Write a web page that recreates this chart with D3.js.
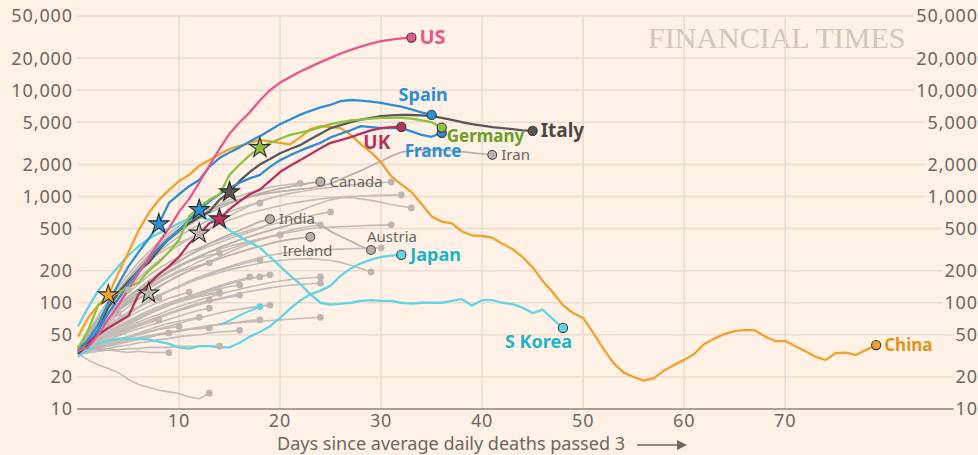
<!DOCTYPE html>
<html><head><meta charset="utf-8">
<script src="https://cdn.jsdelivr.net/npm/d3@7"></script>
<style>
html,body{margin:0;padding:0;background:#fff1e5;}
svg{display:block;}
text{font-family:"Noto Sans",sans-serif;}
</style></head><body>
<svg id="chart" width="978" height="455"></svg>
<script>
// ---------- DATA ----------
const yTicks = [10,20,50,100,200,500,1000,2000,5000,10000,20000,50000];
const xTicks = [10,20,30,40,50,60,70];
const xTitle = "Days since average daily deaths passed 3";
const watermark = "FINANCIAL TIMES";

// highlighted countries: values by day from day 0
const us      = [35,38,50,70,95,135,190,265,370,500,720,950,1350,1950,2800,3900,5000,6200,8000,10000,11800,13300,15000,16600,18400,20200,22200,24000,25800,27500,29000,30000,30800,31300];
const spain   = [35,45,62,100,150,220,300,400,550,870,1050,1250,1430,1900,2300,2600,2900,3300,3700,4200,4800,5300,5900,6400,6900,7300,7900,8100,8000,7800,7600,7300,7000,6600,6200,5860];
const italy   = [33,40,55,90,125,160,200,237,314,400,480,560,640,720,930,1100,1400,1700,2000,2250,2550,2800,3050,3450,3900,4400,4700,5000,5300,5500,5700,5800,5850,5850,5800,5700,5500,5250,5000,4800,4650,4500,4400,4300,4200,4150];
const germany = [37,55,95,110,125,140,155,200,240,300,390,650,800,930,1050,1600,2000,2450,2870,3200,3500,3800,4000,4200,4500,4800,5000,5200,5300,5400,5500,5500,5500,5400,5200,5000,4450];
const france  = [38,42,55,80,110,150,200,260,330,400,480,600,748,900,1050,1200,1350,1480,1600,1900,2200,2450,2700,2950,3200,3600,3900,4200,4600,4500,4400,4400,4400,4100,3800,3650,3980];
const uk      = [38,42,50,58,66,75,120,150,185,220,270,360,440,560,613,760,900,1050,1160,1400,1700,1950,2200,2500,2850,3200,3400,3620,3900,4200,4400,4500,4520];
const china   = [48,72,95,118,190,300,480,700,930,1150,1400,1600,1950,2200,2500,2800,3000,3200,3400,3300,3200,3100,3600,4300,4600,4500,4400,3800,3100,2600,2100,1550,1300,1100,850,650,580,560,470,430,425,410,360,320,270,215,160,125,95,80,72,52,37,27,22,20,18.5,19.5,23,26,29,33,41,46,51,54,55.5,55,48,43.6,43.6,39,35,31,29,33.6,34,32.2,36,40];
const sKorea  = [60,90,130,170,220,280,340,400,450,500,560,620,640,610,560,480,420,370,330,270,220,180,150,120,100,96,98,100,104,106,104,104,100,98,100,100,100,104,108,94,106,106,100,97,90,80,86,70,58];
const japan   = [31,36,41,44,46,46,46,45,43,41,38,37,39,39,38,38,42,48,53,60,72,88,105,120,130,145,180,210,235,255,270,278,282];
const cyanExtra = [62,68,76,84,92]; // starts day 14
// labelled grey countries
const iran    = [36,50,70,95,130,170,220,280,350,420,500,580,660,740,820,880,940,990,1040,1080,1110,1140,1170,1200,1250,1320,1450,1600,1750,1950,2150,2400,2620,2700,2740,2760,2750,2700,2650,2580,2520,2460];
const canada  = [34,48,65,90,120,160,210,260,320,390,460,540,620,700,780,860,930,1000,1070,1130,1190,1240,1290,1340,1380];
const india   = [35,48,62,78,96,115,135,160,185,215,245,280,320,360,400,440,480,530,580,613];
const ireland = [33,45,58,72,85,98,110,123,140,160,180,200,220,240,260,280,300,320,340,360,380,395,405,417];
const austria = [34,44,56,70,86,104,124,146,170,195,220,245,270,300,330,360,390,420,450,480,510,540,570,590,540,470,420,380,340,314];
// unlabelled grey countries
const greys = [
 [33,42,52,64,78,92,108,125,143,160,180,200,220,245,270,300,330,360,390,415,435],
 [36,46,58,72,88,105,123,142,160,180,200,220,245,270,295,320,345,370,395,420,450,480,505,525,541],
 [35,48,62,78,95,112,130,150,170,195,220,245,265,280,294],
 [34,44,56,70,85,100,118,135,155,175,195,210,225,237],
 [33,40,48,57,67,78,90,102,115,128,140,155,170,185,200,215,228,242,253],
 [34,39,45,52,58,65,72,80,88,96,105,114,124,134,145,155,165,175],
 [33,38,43,49,55,62,70,78,86,94,102,110,120,130,140,150,160,168,175],
 [35,41,47,54,61,68,76,84,92,100,108,116,124,133,142,152,162,170,177,183],
 [33,37,42,48,54,60,66,72,78,85,92,99,106,113,120,127,134,141,148,154,160,165,169,172,175],
 [34,38,43,48,53,58,63,68,74,80,86,92,98,104,110,116,122,128,133,138,142,146,149,151,153],
 [33,38,44,50,57,64,72,80,88,96,104,112,120,128,135,142,147],
 [34,38,42,47,52,57,62,67,72,78,84,90,96,102,108,113,118],
 [35,40,46,52,58,65,72,80,88,96,104,111,117,122,126],
 [33,37,42,47,52,57,62,68,74,80,86,93,100,106],
 [34,37,41,45,49,53,57,61,65,70,75,80,85,89],
 [35,42,49,57,65,74,83,92,101,110,118,126],
 [36,44,53,62,72,82,92,102,111],
 [38,55,72,90,110,132],
 [35,45,56,68,80],
 [33,37,41,45,50,55,60,65,69],
 [34,36,38,41,44,47,50,53,56,58,60],
 [33,36,39,42,45,48,52,56,60,64,67,70,73],
 [34,36,38,40,42,44,46,48,50,52,54,56,57,58],
 [33,35,37,39,41,43,45,47,50,52],
 [33,34,36,37,39,40,42,43,45,46,48,49,50,52,53,54,55],
 [34,36,38,40,42,44,46,48,50,52,54,56,58,60,62,64,66,68,69],
 [33,36,39,42,45,48,51,54,57,60,64,68,72,76,80,84,87,90,93,95],
 [35,37,39,41,43,45,47,49,51,53,55,57,59,61,63,64,65,66,67,68,69,70,71,72,73],
 [33,34,35,36,36,37,37,38,38,38,39,39,39,39,39],
 [33,34,35,36,35,34,35,34,34,34],
 [34,36,38],
 [33,29,26,24,22,19,17,16,15,14.5,14,13,12.5,14.1],
 [34,40,46,53,60,67,74,81,88,95,102,108,114,119,123],
 [34,46,60,78,100,125,150,180,210,240,270,300,330,360,390,420,450,480,510,540,570,600,630,660,690,716],
 [35,50,70,95,125,160,200,245,290,330,370,400,434,500,580,660,740,820,900,960,1020,1070,1110,1150,1190,1220,1250,1280,1310,1330,1350,1371],
 [33,45,60,80,105,135,170,210,250,300,350,400,450,500,550,600,650,700,740,780,820,860,890,920,950,970,990,1000,1010,1020,1025,1030,1035],
 [34,44,56,70,88,110,135,160,190,220,250,280,310,340,370,400,430,460,500,560,620,680,740,800,870,930,970,980,950,920,880,840,810,781],
 [33,42,54,68,85,105,125,150,175,200,225,250,275,300,320,340,360,380,400,420,440,460,480,500,510,515,520,525,530,535,538,541],
 [33,40,48,57,68,80,92,105,118,130,145,160,175,190,205,220,235,250,265,280,290,300,305,310,315,318,320,322,325,327,328],
 [34,42,50,60,70,80,92,105,118,130,142,155,168,180,192,205,215,225,235,245,250,255,258,260,255,250,240,225,210,195],
 [35,50,70,95,125,160,200,250,300,360,420,480,540,600,660,720,780,830,870],
 [36,52,75,105,140,185,240,300,370,450,530,610,690,770,850,930,1010,1090,1160,1220,1270,1300,1330]
];
// lockdown stars: [series, day]
const stars = [["China",3],["Ireland",7],["Spain",8],["France",12],["Grey35",12],["UK",14],["Italy",15],["Germany",18]];

// ---------- STYLE ----------
const C = {bg:"#fff1e5", grid:"#e9dccf", axis:"#8b837d", tick:"#6d6661", grey:"#c4bcb6", greyDot:"#bdb5af",
  pink:"#e9578a", blue:"#2b8fd6", dark:"#5b5755", green:"#8cc23d", crimson:"#b5325f", orange:"#f0a12c", cyan:"#5fd5e5"};

const hi = [
 {name:"US", v:us, color:C.pink, lab:C.pink, dx:8, dy:-1, size:20},
 {name:"Spain", v:spain, color:C.blue, lab:C.blue, dx:-33, dy:-20, size:18},
 {name:"Italy", v:italy, color:C.dark, lab:"#4a4745", dx:8, dy:-1, size:19},
 {name:"UK", v:uk, color:C.crimson, lab:C.crimson, dx:-38, dy:15, size:19},
 {name:"France", v:france, color:C.blue, lab:C.blue, dx:-37, dy:18, size:17},
 {name:"Germany", v:germany, color:C.green, lab:"#6e9e27", dx:5, dy:8, size:17},
 {name:"Japan", v:japan, color:C.cyan, lab:"#1db4c6", dx:9, dy:0, size:18},
 {name:"S Korea", v:sKorea, color:C.cyan, lab:"#1db4c6", dx:-58, dy:14, size:18},
 {name:"China", v:china, color:C.orange, lab:"#e39418", dx:8, dy:0, size:17}
];
const labelledGrey = [
 {name:"Iran", v:iran, dx:9, dy:0},
 {name:"Canada", v:canada, dx:9, dy:0},
 {name:"India", v:india, dx:9, dy:0},
 {name:"Ireland", v:ireland, dx:-28, dy:14},
 {name:"Austria", v:austria, dx:-4, dy:-13}
];

const svg = d3.select("#chart");
svg.append("rect").attr("width",978).attr("height",455).attr("fill",C.bg);

const x = d3.scaleLinear().domain([0,87]).range([78,957]);
const y = d3.scaleLog().domain([10,50000]).range([409,16]);
const fmt = d3.format(",");
const toPts = (v,start=0) => v.map((val,i)=>[start+i,val]);
const line = d3.line().x(d=>x(d[0])).y(d=>y(d[1]));

// watermark
svg.append("text").attr("x",648).attr("y",48).text(watermark)
  .style("font-family","'Liberation Serif',serif").style("font-size","30px").attr("fill","#cfc7bc");

// right & left tick labels, gridlines
const gGrid = svg.append("g");
const gTicks = svg.append("g").style("font-size","18px").style("letter-spacing","0.9px").attr("fill",C.tick);
yTicks.forEach(t=>{
  const yy = y(t);
  gTicks.append("text").attr("x",73).attr("y",yy).attr("dy","0.36em").attr("text-anchor","end").text(fmt(t));
  const r = gTicks.append("text").attr("x",978).attr("y",yy).attr("dy","0.36em").attr("text-anchor","end").text(fmt(t));
  const w = r.node().getComputedTextLength();
  gGrid.append("line").attr("x1",77).attr("x2",978-w-2).attr("y1",yy).attr("y2",yy)
    .attr("stroke", t===10? C.axis : C.grid).attr("stroke-width", t===10?1.6:1.5);
});
xTicks.forEach(t=>{
  gGrid.insert("line",":first-child").attr("x1",x(t)).attr("x2",x(t)).attr("y1",y(50000)).attr("y2",y(10)).attr("stroke",C.grid).attr("stroke-width",1.5);
  gTicks.append("text").attr("x",x(t)).attr("y",427).attr("text-anchor","middle").text(t);
});
// x title + arrow
svg.append("text").attr("x",277).attr("y",450).style("font-size","17.5px").attr("fill",C.tick)
  .attr("textLength",348).attr("lengthAdjust","spacingAndGlyphs").text(xTitle);
const ax0 = 637;
svg.append("line").attr("x1",ax0).attr("x2",ax0+42).attr("y1",445).attr("y2",445).attr("stroke",C.tick).attr("stroke-width",1.5);
svg.append("path").attr("d",`M${ax0+40},440 L${ax0+50},445 L${ax0+40},450 Z`).attr("fill",C.tick);

// grey lines
const gLines = svg.append("g").attr("fill","none");
const allSeries = {};
greys.forEach((v,i)=>{ allSeries["Grey"+i]=toPts(v); });
labelledGrey.forEach(s=>{ allSeries[s.name]=toPts(s.v); });
hi.forEach(s=>{ allSeries[s.name]=toPts(s.v); });
allSeries["cyanExtra"]=toPts(cyanExtra,14);

greys.forEach((v,i)=>{
  gLines.append("path").attr("d",line(allSeries["Grey"+i])).attr("stroke",C.grey).attr("stroke-width",1.6);
});
labelledGrey.forEach(s=>{
  gLines.append("path").attr("d",line(allSeries[s.name])).attr("stroke","#b9b1ab").attr("stroke-width",1.8);
});
greys.forEach((v,i)=>{
  const p = allSeries["Grey"+i][v.length-1];
  svg.append("circle").attr("cx",x(p[0])).attr("cy",y(p[1])).attr("r",3.4).attr("fill",C.greyDot);
});
gLines.append("path").attr("d",line(allSeries.cyanExtra)).attr("stroke",C.cyan).attr("stroke-width",2);
{const p=allSeries.cyanExtra[cyanExtra.length-1];
 svg.append("circle").attr("cx",x(p[0])).attr("cy",y(p[1])).attr("r",3.4).attr("fill",C.cyan);}

const order = ["Japan","S Korea","China","Italy","France","UK","Germany","Spain","US"];
order.forEach(n=>{
  const s = hi.find(h=>h.name===n);
  gLines.append("path").attr("d",line(allSeries[n])).attr("stroke",s.color).attr("stroke-width",2.3).attr("stroke-linejoin","round");
});

const star = d3.symbol().type(d3.symbolStar).size(125);
stars.forEach(([n,d])=>{
  const p = allSeries[n].find(q=>q[0]===d);
  const h = hi.find(s=>s.name===n);
  const fill = h ? h.color : "#bdb6b0";
  svg.append("path").attr("d",star).attr("transform",`translate(${x(p[0])},${y(p[1])})`)
    .attr("fill",fill).attr("stroke","#2b2a29").attr("stroke-width",1.1);
});

labelledGrey.forEach(s=>{
  const p = allSeries[s.name][s.v.length-1];
  const cx=x(p[0]), cy=y(p[1]);
  svg.append("circle").attr("cx",cx).attr("cy",cy).attr("r",4.4).attr("fill","#b8b0aa").attr("stroke","#55504d").attr("stroke-width",1.1);
  svg.append("text").attr("x",cx+s.dx).attr("y",cy+s.dy).attr("dy","0.36em").style("font-size","15px").attr("fill","#6b6561").text(s.name);
});
hi.forEach(s=>{
  const p = allSeries[s.name][s.v.length-1];
  const cx=x(p[0]), cy=y(p[1]);
  svg.append("circle").attr("cx",cx).attr("cy",cy).attr("r",4.6).attr("fill",s.color).attr("stroke","#3a3836").attr("stroke-width",1.1);
  svg.append("text").attr("x",cx+s.dx).attr("y",cy+s.dy).attr("dy","0.36em").style("font-size",s.size+"px").style("font-weight","700").attr("fill",s.lab).text(s.name);
});
</script>
</body></html>
